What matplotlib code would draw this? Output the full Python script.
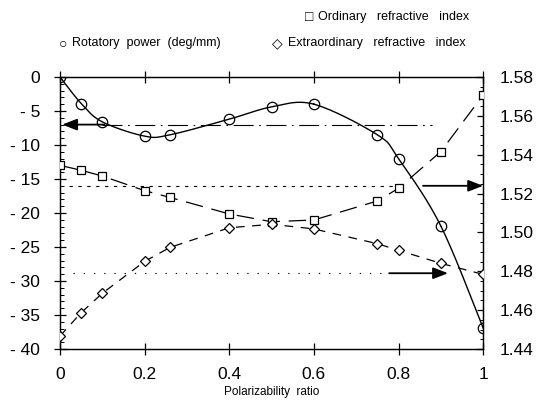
import numpy as np
import matplotlib
matplotlib.use("Agg")
import matplotlib.pyplot as plt
from matplotlib.ticker import MultipleLocator, FixedLocator

plt.rcParams['font.family'] = ['Liberation Sans', 'DejaVu Sans']
plt.rcParams['axes.unicode_minus'] = False

# ---- data ----
ratio = [0.0, 0.05, 0.1, 0.2, 0.26, 0.4, 0.5, 0.6, 0.75, 0.8, 0.9, 1.0]
rotatory = [0.0, -3.9, -6.6, -8.7, -8.5, -6.2, -4.4, -4.0, -8.5, -12.0, -21.9, -36.9]
ordinary = [1.5345, 1.532, 1.529, 1.5215, 1.518, 1.5095, 1.5055, 1.5064, 1.5162, 1.5227, 1.5416, 1.5707]
extraordinary = [1.4467, 1.4587, 1.4687, 1.4851, 1.4923, 1.5024, 1.5042, 1.5018, 1.4942, 1.4908, 1.4841, 1.4784]

rot_level = -7.0
ord_level = 1.524
ext_level = 1.479

xticks = [0, 0.2, 0.4, 0.6, 0.8, 1.0]
xticklabels = ['0', '0.2', '0.4', '0.6', '0.8', '1']
lticks = [0, -5, -10, -15, -20, -25, -30, -35, -40]
lticklabels = ['0', '- 5', '- 10', '- 15', '- 20', '- 25', '- 30', '- 35', '- 40']
rticks = [1.44, 1.46, 1.48, 1.50, 1.52, 1.54, 1.56, 1.58]
rticklabels = ['1.44', '1.46', '1.48', '1.50', '1.52', '1.54', '1.56', '1.58']


def catmull_rom(xs, ys, n=20):
    P = np.column_stack([xs, ys]).astype(float)
    P = np.vstack([P[0], P, P[-1]])
    out = []
    t = np.linspace(0, 1, n)[:, None]
    for i in range(1, len(P) - 2):
        p0, p1, p2, p3 = P[i - 1], P[i], P[i + 1], P[i + 2]
        seg = 0.5 * ((2 * p1) + (-p0 + p2) * t + (2 * p0 - 5 * p1 + 4 * p2 - p3) * t ** 2
                     + (-p0 + 3 * p1 - 3 * p2 + p3) * t ** 3)
        out.append(seg)
    out = np.vstack(out)
    return out[:, 0], out[:, 1]


fig = plt.figure(figsize=(5.41, 4.00), dpi=100)
ax = fig.add_axes([0.111, 0.1275, 0.782, 0.68])
ax2 = ax.twinx()

ax.set_xlim(0, 1)
ax.set_ylim(-40, 0)
ax2.set_ylim(1.44, 1.58)

# rotatory power
cx, cy = catmull_rom(ratio, rotatory)
ax.plot(cx, cy, color='black', lw=1.0, zorder=3)
ax.plot(ratio, rotatory, 'o', ms=7.5, mfc='none', mec='black', mew=0.9, zorder=4)

# ordinary
ax2.plot(ratio, ordinary, color='black', lw=0.9, dashes=(14, 7), zorder=3)
ax2.plot(ratio, ordinary, 's', ms=6, mfc='white', mec='black', mew=0.9, zorder=4)

# extraordinary
ax2.plot(ratio, extraordinary, color='black', lw=0.9, dashes=(7, 6), zorder=3)
ax2.plot(ratio, extraordinary, 'D', ms=5, mfc='white', mec='black', mew=0.9, zorder=4)

# reference lines
ax.plot([0.1, 0.88], [rot_level, rot_level], color='black', lw=0.8,
        dashes=(18, 5, 1.5, 5), zorder=2)
ax2.plot([0.02, 0.8], [ord_level, ord_level], color='black', lw=0.8,
         dashes=(3, 5), zorder=2)
ax2.plot([0.03, 0.76], [ext_level, ext_level], color='black', lw=0.8,
         dashes=(1.2, 8), zorder=2)

arrow_kw = dict(arrowstyle='-|>,head_length=0.9,head_width=0.35', color='black', lw=1.3,
                shrinkA=0, shrinkB=0)
ax.annotate('', xy=(0.005, rot_level), xytext=(0.105, rot_level), arrowprops=arrow_kw, zorder=5)
ax2.annotate('', xy=(1.0, ord_level), xytext=(0.858, ord_level), arrowprops=arrow_kw, zorder=5)
ax2.annotate('', xy=(0.917, ext_level), xytext=(0.778, ext_level), arrowprops=arrow_kw, zorder=5)

# ticks
ax.xaxis.set_major_locator(FixedLocator(xticks))
ax.set_xticklabels(xticklabels)
ax.yaxis.set_major_locator(FixedLocator(lticks))
ax.set_yticklabels(lticklabels)
ax.yaxis.set_minor_locator(MultipleLocator(1))
ax2.yaxis.set_major_locator(FixedLocator(rticks))
ax2.set_yticklabels(rticklabels)
ax2.yaxis.set_minor_locator(MultipleLocator(0.005))

ax.tick_params(axis='x', which='major', direction='inout', length=8, width=0.9,
               top=True, labelsize=12.5, pad=9)
ax.tick_params(axis='y', which='major', direction='inout', length=9, width=0.9,
               labelsize=12.5, pad=10)
ax.tick_params(axis='y', which='minor', direction='in', length=3, width=0.7)
ax2.tick_params(axis='y', which='major', direction='in', length=4, width=0.9,
                labelsize=12.5, pad=12)
ax2.tick_params(axis='y', which='minor', direction='in', length=2.5, width=0.7)

for a in (ax, ax2):
    for s in a.spines.values():
        s.set_linewidth(0.9)

ax.set_xlabel('Polarizability  ratio', fontsize=8.5, va='top')
ax.xaxis.set_label_coords(0.5, -0.137)

# legend-like texts
fig.text(0.563, 0.957, '\u25a1', fontsize=10, ha='left', va='center')
fig.text(0.588, 0.957, 'Ordinary   refractive   index', fontsize=9, ha='left', va='center')
fig.text(0.108, 0.892, '\u25cb', fontsize=10, ha='left', va='center')
fig.text(0.133, 0.892, 'Rotatory  power  (deg/mm)', fontsize=9, ha='left', va='center')
fig.text(0.503, 0.892, '\u25c7', fontsize=10, ha='left', va='center')
fig.text(0.533, 0.892, 'Extraordinary   refractive   index', fontsize=9, ha='left', va='center')

fig.savefig('out.png', dpi=100)
